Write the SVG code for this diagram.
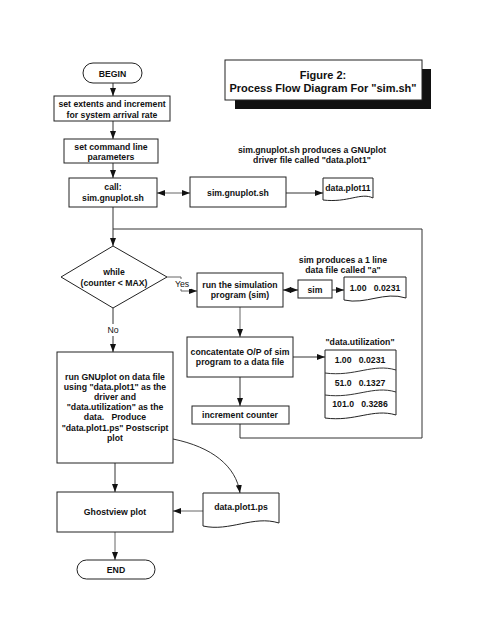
<svg xmlns="http://www.w3.org/2000/svg" width="480" height="619" viewBox="0 0 480 619">
<defs>
<style>
.n{fill:#fff;stroke:#222;stroke-width:1}
.t{font-family:"Liberation Sans",Arial,sans-serif;font-weight:bold;font-size:8.7px;fill:#111;text-anchor:middle}
.ti{font-family:"Liberation Sans",Arial,sans-serif;font-weight:bold;font-size:11px;fill:#111;text-anchor:middle}
.c{fill:none;stroke:#333;stroke-width:1}
.g{fill:none;stroke:#666;stroke-width:1}
</style>
<marker id="ah" markerWidth="8" markerHeight="6" refX="8" refY="3" orient="auto-start-reverse" markerUnits="userSpaceOnUse">
<path d="M0,0 L8,3 L0,6 z" fill="#111"/>
</marker>
</defs>
<rect width="480" height="619" fill="#fff"/>

<g id="title">
<rect x="235" y="69" width="196" height="40" fill="#111"/>
<rect x="225" y="60" width="197" height="40" class="n"/>
<text class="ti" x="323" y="79">Figure 2:</text>
<text class="ti" x="323" y="92">Process Flow Diagram For "sim.sh"</text>
</g>

<g id="connectors">
<path class="c" d="M113,83 V96" marker-end="url(#ah)"/>
<path class="c" d="M113,121 V139" marker-end="url(#ah)"/>
<path class="c" d="M113,163 V178" marker-end="url(#ah)"/>
<path class="g" d="M157,193 H190" marker-start="url(#ah)" marker-end="url(#ah)"/>
<path class="c" d="M286,193 H323" marker-end="url(#ah)"/>
<path class="c" d="M113,207 V246" marker-end="url(#ah)"/>
<path class="c" d="M240,424 V438 H422 V229 H113"/>
<path class="g" d="M167,277 H181 V291 H197" marker-end="url(#ah)"/>
<path class="c" d="M283,290 H298" marker-start="url(#ah)" marker-end="url(#ah)"/>
<path class="c" d="M332,290 H344" marker-end="url(#ah)"/>
<path class="g" d="M240,307 V337" marker-end="url(#ah)"/>
<path class="c" d="M293,357 H325" marker-end="url(#ah)"/>
<path class="c" d="M240,377 V406" marker-end="url(#ah)"/>
<path class="c" d="M113,308 V352" marker-end="url(#ah)"/>
<path class="c" d="M115,463 V492" marker-end="url(#ah)"/>
<path class="c" d="M173,439 C212,447 236,466 240,493" marker-end="url(#ah)"/>
<path class="g" d="M203,511 H173" marker-end="url(#ah)"/>
<path class="g" d="M115,532 V560" marker-end="url(#ah)"/>
<rect x="173" y="279" width="18" height="10" fill="#fff"/>
<text class="t" x="182" y="287" style="font-weight:normal">Yes</text>
<rect x="104" y="324" width="18" height="12" fill="#fff"/>
<text class="t" x="113" y="333" style="font-weight:normal">No</text>
</g>

<g id="begin">
<rect x="83" y="63" width="59" height="20" rx="10" class="n"/>
<text class="t" x="112.5" y="76.5">BEGIN</text>
</g>

<g id="setExtents">
<rect x="54" y="96" width="116" height="25" class="n"/>
<text class="t" x="112" y="107">set extents and increment</text>
<text class="t" x="112" y="118">for system arrival rate</text>
</g>

<g id="setParams">
<rect x="64" y="139" width="94" height="24" class="n"/>
<text class="t" x="111" y="150">set command line</text>
<text class="t" x="111" y="160">parameters</text>
</g>

<g id="callGnuplot">
<rect x="69" y="178" width="88" height="29" class="n"/>
<text class="t" x="113" y="190">call:</text>
<text class="t" x="113" y="201">sim.gnuplot.sh</text>
</g>

<g id="simGnuplot">
<rect x="190" y="177" width="96" height="30" class="n"/>
<text class="t" x="238" y="196">sim.gnuplot.sh</text>
</g>

<g id="dataPlot11">
<path class="n" d="M323,178 H373 V198 C361,192 348,203 323,200 Z"/>
<text class="t" x="348" y="191">data.plot11</text>
</g>

<g id="noteGnuplot">
<text class="t" x="312" y="153">sim.gnuplot.sh produces a GNUplot</text>
<text class="t" x="312" y="163">driver file called "data.plot1"</text>
</g>

<g id="while">
<polygon class="n" points="113,246 167,277 113,308 61,277"/>
<text class="t" x="114" y="275">while</text>
<text class="t" x="114" y="286">(counter &lt; MAX)</text>
</g>

<g id="runSim">
<rect x="197" y="273" width="86" height="34" class="n"/>
<text class="t" x="240" y="288">run the simulation</text>
<text class="t" x="240" y="298">program (sim)</text>
</g>

<g id="sim">
<rect x="298" y="280" width="34" height="18" class="n"/>
<text class="t" x="315" y="293">sim</text>
</g>

<g id="fileA">
<path class="n" d="M344,277 H406 V298 C384,291 366,305 344,300 Z"/>
<text class="t" x="375" y="291" xml:space="preserve">1.00   0.0231</text>
</g>

<g id="noteSim">
<text class="t" x="343" y="263">sim produces a 1 line</text>
<text class="t" x="343" y="273">data file called "a"</text>
</g>

<g id="concat">
<rect x="187" y="337" width="106" height="40" class="n"/>
<text class="t" x="240" y="355">concatentate O/P of sim</text>
<text class="t" x="240" y="365">program to a data file</text>
</g>

<g id="dataUtil">
<text class="t" x="360" y="345">"data.utilization"</text>
<path class="n" d="M325,350 H396 V415 C373,408 355,422 325,418 Z"/>
<path class="c" d="M396,370 C373,363 355,377 325,373"/>
<path class="c" d="M396,392 C373,385 355,399 325,395"/>
<text class="t" x="360" y="363" xml:space="preserve">1.00   0.0231</text>
<text class="t" x="360" y="386" xml:space="preserve">51.0   0.1327</text>
<text class="t" x="360" y="407" xml:space="preserve">101.0   0.3286</text>
</g>

<g id="increment">
<rect x="192" y="406" width="97" height="18" class="n"/>
<text class="t" x="240" y="418">increment counter</text>
</g>

<g id="runGnuplot">
<rect x="57" y="352" width="116" height="111" class="n"/>
<text class="t" x="115" y="380">run GNUplot on data file</text>
<text class="t" x="115" y="390">using "data.plot1" as the</text>
<text class="t" x="115" y="400">driver and</text>
<text class="t" x="115" y="410">"data.utilization" as the</text>
<text class="t" x="115" y="420" xml:space="preserve">data.   Produce</text>
<text class="t" x="115" y="431">"data.plot1.ps" Postscript</text>
<text class="t" x="115" y="441">plot</text>
</g>

<g id="ghostview">
<rect x="57" y="492" width="116" height="40" class="n"/>
<text class="t" x="115" y="515">Ghostview plot</text>
</g>

<g id="dataPlot1ps">
<path class="n" d="M203,493 H279 V523 C253,515 230,532 203,526 Z"/>
<text class="t" x="241" y="510">data.plot1.ps</text>
</g>

<g id="end">
<rect x="77" y="560" width="78" height="19" rx="9.5" class="n"/>
<text class="t" x="116" y="573">END</text>
</g>
</svg>
